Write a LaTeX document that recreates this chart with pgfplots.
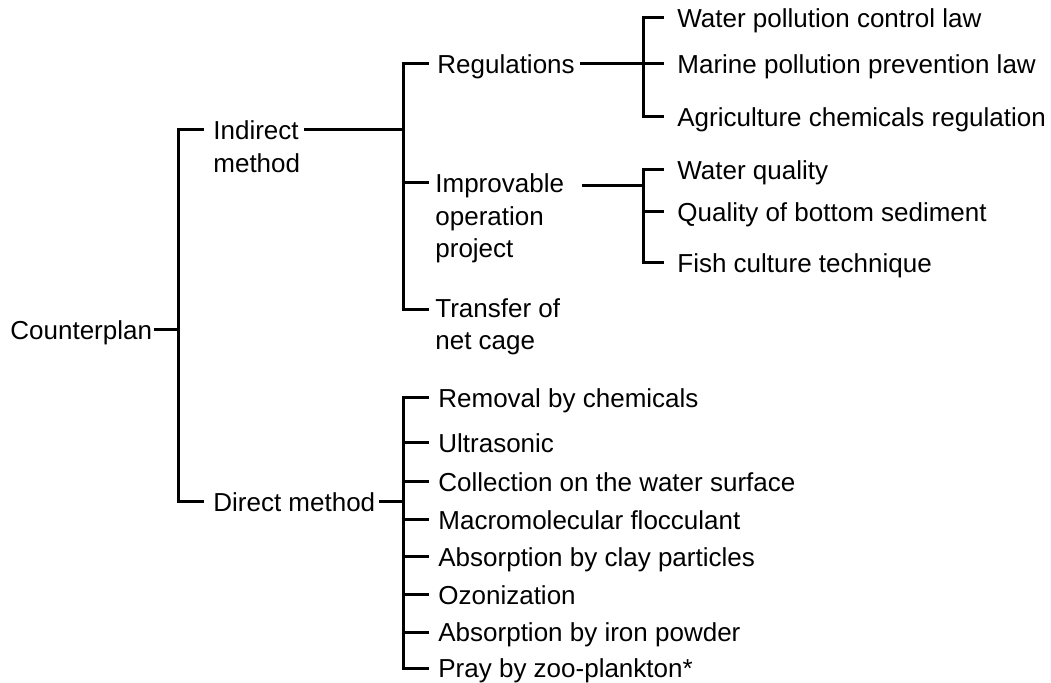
\documentclass[border=0pt]{standalone}
\usepackage{pgfplots}
\pgfplotsset{compat=1.18}
\usepackage{fontspec}
\setmainfont{Liberation Sans}

\begin{document}
\begin{tikzpicture}
\begin{axis}[
    width=525.5pt, height=340.5pt,
    scale only axis,
    hide axis,
    xmin=0, xmax=1051,
    ymin=0, ymax=681,
    y dir=reverse,
    clip=false,
    br/.style={black, solid, line width=1.5pt, line cap=rect, mark=none},
]
\path (axis cs:0,0) (axis cs:1051,681);

% root
\addplot[br] coordinates {(155,330) (178,330)};
\addplot[br] coordinates {(202,130) (178,130) (178,502) (202,502)};

% indirect method
\addplot[br] coordinates {(305,130) (403,130)};
\addplot[br] coordinates {(427,64) (403,64) (403,310) (427,310)};
\addplot[br] coordinates {(403,183) (427,183)};

% regulations
\addplot[br] coordinates {(581,64) (662,64)};
\addplot[br] coordinates {(662,18) (643,18) (643,117) (662,117)};

% improvable operation project
\addplot[br] coordinates {(583,186) (643,186)};
\addplot[br] coordinates {(662,170) (643,170) (643,263) (662,263)};
\addplot[br] coordinates {(643,212) (662,212)};

% direct method
\addplot[br] coordinates {(380,502) (403,502)};
\addplot[br] coordinates {(427,398) (403,398) (403,668) (427,668)};
\addplot[br] coordinates {(403,443) (427,443)};
\addplot[br] coordinates {(403,482) (427,482)};
\addplot[br] coordinates {(403,520) (427,520)};
\addplot[br] coordinates {(403,557) (427,557)};
\addplot[br] coordinates {(403,595) (427,595)};
\addplot[br] coordinates {(403,632) (427,632)};

\tikzset{lbl/.style={anchor=base west, inner sep=0pt, font=\fontsize{13pt}{15pt}\selectfont}}
\newcommand{\lbl}[3]{\node[lbl] at (axis cs:#1,#2+9.3) {#3};}

\lbl{10}{330}{Counterplan}
\lbl{213}{130}{Indirect}
\lbl{213}{163}{method}
\lbl{213}{502}{Direct method}

\lbl{437}{64}{Regulations}
\lbl{435}{183}{Improvable}
\lbl{435}{216}{operation}
\lbl{435}{248}{project}
\lbl{435}{308}{Transfer of}
\lbl{435}{340}{net cage}

\lbl{677}{18}{Water pollution control law}
\lbl{677}{64}{Marine pollution prevention law}
\lbl{677}{117}{Agriculture chemicals regulation}
\lbl{677}{170}{Water quality}
\lbl{677}{212}{Quality of bottom sediment}
\lbl{677}{263}{Fish culture technique}

\lbl{438}{398}{Removal by chemicals}
\lbl{438}{443}{Ultrasonic}
\lbl{438}{482}{Collection on the water surface}
\lbl{438}{520}{Macromolecular flocculant}
\lbl{438}{557}{Absorption by clay particles}
\lbl{438}{595}{Ozonization}
\lbl{438}{632}{Absorption by iron powder}
\lbl{438}{668}{Pray by zoo-plankton*}
\end{axis}
\end{tikzpicture}
\end{document}
